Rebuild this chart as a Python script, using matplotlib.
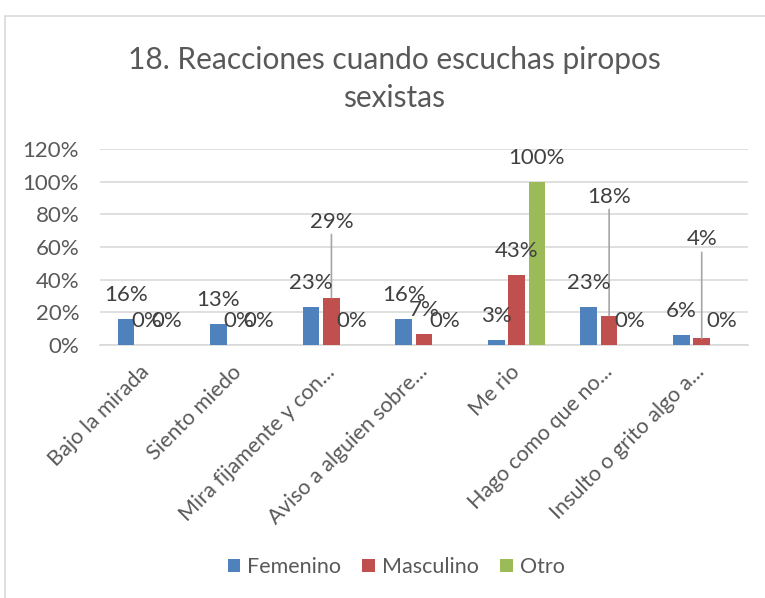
import matplotlib
matplotlib.use('Agg')
import numpy as np
import matplotlib.pyplot as plt
import matplotlib.transforms as mtransforms
from matplotlib.patches import Rectangle

# datos (en %)
categorias = ['Bajo la mirada', 'Siento miedo', 'Mira fijamente y con...',
              'Aviso a alguien sobre...', 'Me rio', 'Hago como que no...',
              'Insulto o grito algo a...']
femenino = [16, 13, 23, 16, 3, 23, 6]
masculino = [0, 0, 29, 7, 43, 18, 4]
otro = [0, 0, 0, 0, 100, 0, 0]
series = ['Femenino', 'Masculino', 'Otro']
y_ticks = [0, 20, 40, 60, 80, 100, 120]

colores = ['#4F81BD', '#C0504D', '#9BBB59']
gris_texto = '#595959'
gris_linea = '#D9D9D9'

plt.rcParams['font.family'] = ['Lato', 'DejaVu Sans']

fig = plt.figure(figsize=(7.65, 5.98), dpi=100)
ax = fig.add_axes([100 / 765, 1 - 345 / 598, 648 / 765, 196 / 598])

x = np.arange(len(categorias))
ancho = 0.18
paso = 0.22
# etiquetas desplazadas hacia arriba (serie, categoría) -> px extra, con línea guía
movidas = {(1, 2): 52, (1, 5): 95, (1, 6): 75}

for i, (nombre, vals) in enumerate(zip(series, [femenino, masculino, otro])):
    xs = x + (i - 1) * paso
    ax.bar(xs, vals, width=ancho, color=colores[i], label=nombre, zorder=3)
    for j, (xx, v) in enumerate(zip(xs, vals)):
        extra = movidas.get((i, j), 0)
        if extra:
            ax.annotate(f'{v}%', xy=(xx, v), xytext=(0, 24 + extra),
                        textcoords='offset pixels', ha='center', va='center',
                        fontsize=16, color='#404040',
                        arrowprops=dict(arrowstyle='-', color='#A6A6A6', lw=1.2,
                                        shrinkA=0, shrinkB=0))
        else:
            ax.annotate(f'{v}%', xy=(xx, v), xytext=(0, 24),
                        textcoords='offset pixels', ha='center', va='center',
                        fontsize=16, color='#404040', zorder=5)

ax.set_xlim(-0.5, len(categorias) - 0.5)
ax.set_ylim(0, 120)
ax.set_yticks(y_ticks)
ax.set_yticklabels([f'{t}%' for t in y_ticks])
ax.yaxis.grid(True, color=gris_linea, lw=1.2, zorder=0)
ax.set_xticks(x)
ax.set_xticklabels(categorias, rotation=45, ha='right', va='center',
                   rotation_mode='anchor')
# pequeño corrimiento a la derecha de las etiquetas rotadas
desplazo = mtransforms.ScaledTranslation(5 / 100, 0, fig.dpi_scale_trans)
for lbl in ax.get_xticklabels():
    lbl.set_transform(lbl.get_transform() + desplazo)
for s in ['top', 'right', 'left']:
    ax.spines[s].set_visible(False)
ax.spines['bottom'].set_color(gris_linea)
ax.spines['bottom'].set_linewidth(1.2)
ax.tick_params(axis='y', length=0, pad=15, labelsize=16, labelcolor=gris_texto)
ax.tick_params(axis='x', length=0, pad=17, labelsize=15.5, labelcolor=gris_texto)

fig.text(394 / 765, 1 - 79 / 598, '18. Reacciones cuando escuchas piropos\nsexistas',
         ha='center', va='center', fontsize=21.5, color=gris_texto, linespacing=1.4)

fig.legend(loc='center', bbox_to_anchor=(396 / 765, 1 - 567 / 598), ncol=3,
           frameon=False, fontsize=15.5, handlelength=0.6, handleheight=0.6,
           handletextpad=0.3, columnspacing=1.0, labelcolor=gris_texto)

fig.add_artist(Rectangle((5 / 765, -0.2), 1.2, 0.2 + (1 - 16 / 598),
                         transform=fig.transFigure, fill=False,
                         edgecolor=gris_linea, lw=1.2))

fig.savefig('out.png', dpi=100, facecolor='white')
